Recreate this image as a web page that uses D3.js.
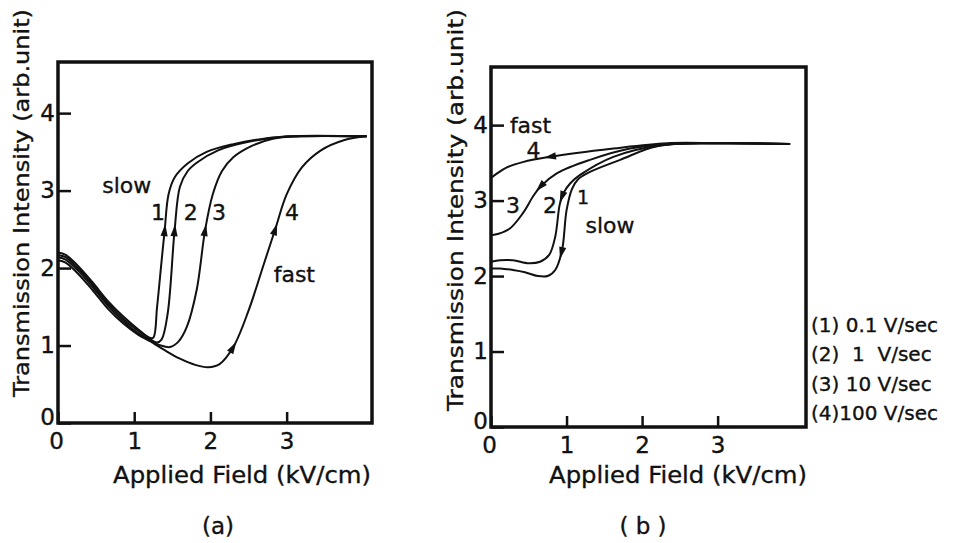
<!DOCTYPE html>
<html>
<head>
<meta charset="utf-8">
<script src="https://cdn.jsdelivr.net/npm/d3@7"></script>
<style>
  body { margin: 0; background: #fff; }
  text { font-family: "DejaVu Sans", sans-serif; fill: #111; stroke: #111; stroke-width: 0.35px; }
</style>
</head>
<body>
<div id="chart"></div>
<script>
// ---- data (x: kV/cm, y: arb. unit) ----
// panel (a): field increasing, curves drawn in the direction of the sweep
const a1 = [[0,2.2],[0.1,2.17],[0.25,2.04],[0.45,1.82],[0.65,1.58],[0.85,1.38],[1.05,1.21],[1.2,1.1],[1.25,1.1],[1.3,1.5],[1.36,2.1],[1.4,2.49],[1.45,2.95],[1.53,3.17],[1.7,3.35],[1.95,3.5],[2.3,3.6],[2.7,3.67],[3.1,3.7],[4.05,3.7]];
const a2 = [[0,2.17],[0.1,2.14],[0.25,2.01],[0.45,1.79],[0.65,1.55],[0.85,1.35],[1.05,1.19],[1.2,1.09],[1.3,1.04],[1.36,1.08],[1.44,1.42],[1.53,2.49],[1.6,3.05],[1.7,3.25],[1.82,3.36],[2.1,3.52],[2.5,3.63],[3.0,3.7],[4.05,3.7]];
const a3 = [[0,2.14],[0.1,2.11],[0.25,1.98],[0.45,1.76],[0.65,1.52],[0.85,1.32],[1.05,1.16],[1.2,1.07],[1.35,1.0],[1.47,0.98],[1.58,1.05],[1.69,1.24],[1.82,1.72],[1.93,2.49],[2.03,2.95],[2.15,3.25],[2.3,3.43],[2.55,3.58],[2.82,3.67],[3.2,3.7],[4.05,3.7]];
const a4 = [[0,2.1],[0.1,2.07],[0.25,1.94],[0.45,1.72],[0.65,1.48],[0.85,1.29],[1.05,1.14],[1.2,1.06],[1.4,0.94],[1.6,0.83],[1.8,0.75],[1.97,0.72],[2.12,0.76],[2.3,0.98],[2.5,1.45],[2.7,2.05],[2.85,2.5],[3.0,2.95],[3.2,3.3],[3.45,3.52],[3.75,3.65],[4.05,3.7]];

// panel (b): field decreasing, curves drawn from the right end to the left
const b1 = [[3.96,3.75],[3.0,3.76],[2.2,3.72],[1.71,3.54],[1.31,3.38],[1.15,3.28],[1.07,3.15],[1.0,2.87],[0.94,2.34],[0.85,2.08],[0.75,2.0],[0.62,2.0],[0.45,2.05],[0.29,2.08],[0.12,2.1],[0,2.1]];
const b2 = [[3.96,3.75],[3.0,3.76],[2.3,3.74],[1.62,3.58],[1.18,3.34],[1.05,3.23],[0.96,3.1],[0.91,2.95],[0.85,2.52],[0.77,2.28],[0.65,2.19],[0.5,2.17],[0.29,2.21],[0.12,2.21],[0,2.19]];
const b3 = [[3.96,3.75],[3.0,3.76],[2.4,3.75],[1.84,3.69],[1.31,3.54],[0.87,3.36],[0.65,3.18],[0.56,3.06],[0.42,2.83],[0.25,2.63],[0.1,2.56],[0,2.54]];
const b4 = [[3.96,3.75],[3.0,3.76],[2.33,3.76],[1.62,3.69],[0.78,3.58],[0.42,3.51],[0.21,3.44],[0.08,3.36],[0,3.3]];

const xTicks = [0, 1, 2, 3];
const yTicks = [0, 1, 2, 3, 4];
const legendLabels = ["(1) 0.1 V/sec", "(2)  1  V/sec", "(3) 10 V/sec", "(4)100 V/sec"];

const W = 954, H = 543;
const svg = d3.select("#chart").append("svg")
    .attr("width", W).attr("height", H);

// arrow helper: find the point on a path closest to (px,py) and draw a small head there
function addArrow(g, pathNode, px, py) {
    const L = pathNode.getTotalLength();
    let best = 0, bestD = Infinity;
    for (let s = 0; s <= L; s += 0.5) {
        const p = pathNode.getPointAtLength(s);
        const d = (p.x - px) * (p.x - px) + (p.y - py) * (p.y - py);
        if (d < bestD) { bestD = d; best = s; }
    }
    const p0 = pathNode.getPointAtLength(Math.max(0, best - 3));
    const p1 = pathNode.getPointAtLength(Math.min(L, best + 3));
    const ang = Math.atan2(p1.y - p0.y, p1.x - p0.x) * 180 / Math.PI;
    const c = pathNode.getPointAtLength(best);
    g.append("path")
        .attr("d", "M6,0 L-6,-3.6 L-6,3.6 Z")
        .attr("fill", "#111")
        .attr("transform", "translate(" + c.x + "," + c.y + ") rotate(" + ang + ")");
}

function panel(cfg) {
    const x = d3.scaleLinear().domain([0, cfg.xMax]).range([cfg.left, cfg.right]);
    const y = d3.scaleLinear().domain([0, cfg.yMax]).range([cfg.bottom, cfg.top]);
    const g = svg.append("g");

    const line = d3.line()
        .x(function(d) { return x(d[0]); })
        .y(function(d) { return y(d[1]); })
        .curve(d3.curveCatmullRom.alpha(0.5));

    cfg.curves.forEach(function(c) {
        const p = g.append("path")
            .attr("d", line(c.data))
            .attr("fill", "none")
            .attr("stroke", "#111")
            .attr("stroke-width", 2);
        c.arrows.forEach(function(a) { addArrow(g, p.node(), x(a[0]), y(a[1])); });
    });

    // axes: ticks point inward
    const xAxis = g.append("g")
        .attr("transform", "translate(0," + cfg.bottom + ")")
        .call(d3.axisBottom(x).tickValues(xTicks).tickSizeInner(-11).tickSizeOuter(0).tickPadding(10)
            .tickFormat(d3.format("d")));
    const yAxis = g.append("g")
        .attr("transform", "translate(" + cfg.left + ",0)")
        .call(d3.axisLeft(y).tickValues(yTicks).tickSizeInner(-13).tickSizeOuter(0).tickPadding(3)
            .tickFormat(d3.format("d")));
    [xAxis, yAxis].forEach(function(ax) {
        ax.select(".domain").remove();
        ax.selectAll("line").attr("stroke", "#111").attr("stroke-width", 2.5);
        ax.selectAll("text").attr("font-size", 23).attr("fill", "#111")
            .style("font-family", "DejaVu Sans, sans-serif");
    });
    xAxis.selectAll(".tick").filter(function(d) { return d === 0; }).select("text").attr("dx", -2);
    yAxis.selectAll(".tick").filter(function(d) { return d === 0; }).select("text").attr("dy", "0.05em");

    g.append("rect")
        .attr("x", cfg.left).attr("y", cfg.top)
        .attr("width", cfg.right - cfg.left).attr("height", cfg.bottom - cfg.top)
        .attr("fill", "none").attr("stroke", "#111").attr("stroke-width", 3.5);

    g.append("text")
        .attr("transform", "translate(" + cfg.yTitleX + "," + cfg.yTitleY + ") rotate(-90)")
        .attr("text-anchor", "middle")
        .attr("font-size", 22)
        .attr("textLength", cfg.yTitleLen)
        .attr("lengthAdjust", "spacingAndGlyphs")
        .text("Transmission Intensity (arb.unit)");

    g.append("text")
        .attr("x", cfg.xTitleX).attr("y", 483)
        .attr("text-anchor", "middle")
        .attr("font-size", 23)
        .attr("textLength", 258)
        .attr("lengthAdjust", "spacingAndGlyphs")
        .text("Applied Field (kV/cm)");

    g.append("text")
        .attr("x", cfg.capX).attr("y", 534)
        .attr("text-anchor", "middle")
        .attr("font-size", 23)
        .attr("xml:space", "preserve")
        .text(cfg.caption);

    cfg.notes.forEach(function(n) {
        g.append("text")
            .attr("x", x(n.x)).attr("y", y(n.y))
            .attr("font-size", n.size || 22)
            .text(n.t);
    });
    return { x: x, y: y };
}

panel({
    left: 58, right: 372, top: 62, bottom: 423, xMax: 4.12, yMax: 4.66,
    yTitleX: 29, yTitleY: 203, yTitleLen: 388, xTitleX: 242, capX: 218, caption: "(a)",
    curves: [
        { data: a1, arrows: [[1.4, 2.49]] },
        { data: a2, arrows: [[1.53, 2.49]] },
        { data: a3, arrows: [[1.93, 2.49]] },
        { data: a4, arrows: [[2.3, 0.98], [2.85, 2.5]] }
    ],
    notes: [
        { t: "slow", x: 0.58, y: 2.97 },
        { t: "1", x: 1.22, y: 2.62 },
        { t: "2", x: 1.65, y: 2.62 },
        { t: "3", x: 2.02, y: 2.62 },
        { t: "4", x: 2.98, y: 2.62 },
        { t: "fast", x: 2.83, y: 1.82 }
    ]
});

panel({
    left: 491, right: 806, top: 67, bottom: 427, xMax: 4.17, yMax: 4.77,
    yTitleX: 463, yTitleY: 210, yTitleLen: 402, xTitleX: 678, capX: 643, caption: "( b )",
    curves: [
        { data: b1, arrows: [[0.95, 2.3]] },
        { data: b2, arrows: [[0.92, 3.05]] },
        { data: b3, arrows: [[0.65, 3.18]] },
        { data: b4, arrows: [[0.78, 3.58]] }
    ],
    notes: [
        { t: "fast", x: 0.25, y: 3.9 },
        { t: "4", x: 0.47, y: 3.56 },
        { t: "3", x: 0.2, y: 2.83 },
        { t: "2", x: 0.69, y: 2.83 },
        { t: "1", x: 1.14, y: 2.95, size: 19 },
        { t: "slow", x: 1.25, y: 2.57 }
    ]
});

// legend to the right of panel (b)
svg.append("g").selectAll("text")
    .data(legendLabels)
    .join("text")
    .attr("x", 811)
    .attr("y", function(d, i) { return 332 + i * 29.3; })
    .attr("font-size", 20)
    .attr("xml:space", "preserve")
    .text(function(d) { return d; });
</script>
</body>
</html>
